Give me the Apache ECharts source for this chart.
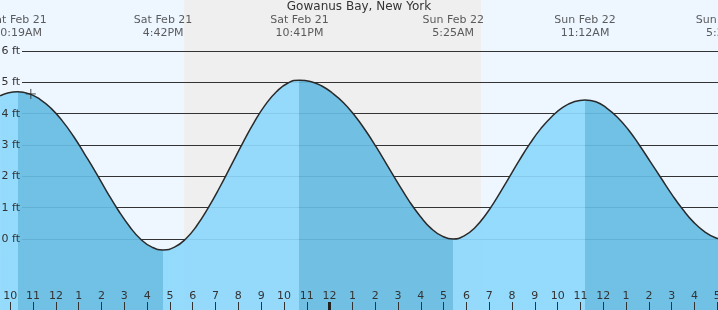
<!DOCTYPE html>
<html>
<head>
<meta charset="utf-8">
<script src="https://cdn.jsdelivr.net/npm/echarts@6/dist/echarts.min.js"></script>
<style>html,body{margin:0;padding:0;background:#eef7ff;}#c{width:718px;height:310px;}</style>
</head>
<body>
<div id="c"></div>
<script>
// ---- data (hours since Sat Feb 21 00:00) ----
const tideTimes = [
  9.55, 9.93, 10.32, 10.81, 11.30, 11.79, 12.28, 12.77, 13.26, 13.76, 14.25, 14.74, 15.23, 15.72, 16.21, 16.70,
  17.20, 17.70, 18.19, 18.69, 19.19, 19.69, 20.19, 20.69, 21.18, 21.68, 22.18, 22.68,
  23.16, 23.64, 24.12, 24.61, 25.09, 25.57, 26.05, 26.53, 27.01, 27.49, 27.98, 28.46, 28.94, 29.42,
  29.90, 30.38, 30.87, 31.35, 31.83, 32.31, 32.79, 33.27, 33.76, 34.24, 34.72, 35.20,
  35.68, 36.15, 36.63, 37.11, 37.58, 38.06, 38.54, 39.02, 39.49, 39.97, 40.45, 40.92, 41.40
];
const tideHeights = [
  4.57, 4.67, 4.70, 4.64, 4.46, 4.17, 3.77, 3.28, 2.71, 2.11, 1.49, 0.91, 0.40, -0.01, -0.26, -0.35,
  -0.26, 0.01, 0.44, 1.01, 1.66, 2.36, 3.06, 3.72, 4.28, 4.71, 4.98, 5.07,
  5.03, 4.89, 4.66, 4.35, 3.95, 3.47, 2.93, 2.35, 1.77, 1.21, 0.72, 0.33, 0.09, 0.00,
  0.10, 0.37, 0.80, 1.33, 1.91, 2.50, 3.05, 3.53, 3.92, 4.21, 4.38, 4.44,
  4.38, 4.18, 3.88, 3.48, 3.00, 2.47, 1.94, 1.41, 0.94, 0.53, 0.23, 0.04, -0.03
];
const eventTimes  = [10.32, 16.7, 22.68, 29.42, 35.2, 41.4];
const eventTypes  = ['high', 'low', 'high', 'low', 'high', 'low'];
const eventLabels = ['Sat Feb 21\n10:19AM', 'Sat Feb 21\n4:42PM', 'Sat Feb 21\n10:41PM', 'Sun Feb 22\n5:25AM', 'Sun Feb 22\n11:12AM', 'Sun Feb 22\n5:25PM'];
const sunset = 17.62, sunrise = 30.64;
const hourTicks = [10,11,12,13,14,15,16,17,18,19,20,21,22,23,24,25,26,27,28,29,30,31,32,33,34,35,36,37,38,39,40,41];
const midnightTicks = [24];
const nowPoint = [10.9, 4.63];
const title = 'Gowanus Bay, New York';

// ---- styling / layout ----
const X_MIN = 9.5484, X_MAX = 41.031;
const Y_MIN = -2.266, Y_MAX = 7.628;
const LIGHT = '#8dd8fc', DARK = '#66bce3';
const FONT = 'DejaVu Sans';
const FS = 11;

const pieces = [];
let prev = -Infinity;
eventTimes.forEach((t, i) => {
  pieces.push({ gte: prev, lt: t, color: eventTypes[i] === 'high' ? LIGHT : DARK });
  prev = t;
});
pieces.push({ gte: prev, lt: Infinity, color: eventTypes[eventTypes.length - 1] === 'high' ? DARK : LIGHT });

const chart = echarts.init(document.getElementById('c'), null, { renderer: 'canvas' });
chart.setOption({
  animation: false,
  backgroundColor: '#eef7ff',
  textStyle: { fontFamily: FONT },
  title: {
    text: title, left: 'center', top: 1, padding: 0, z: 10,
    textStyle: { fontSize: 12, fontWeight: 'normal', color: '#333', fontFamily: FONT }
  },
  grid: [
    { left: 0, right: 0, top: 0, bottom: 0, outerBoundsMode: 'none', containLabel: false },
    { left: 22, right: 0, top: 51, bottom: 71, outerBoundsMode: 'none', containLabel: false }
  ],
  xAxis: [
    {
      type: 'value', gridIndex: 0, min: X_MIN, max: X_MAX, position: 'bottom', z: 10,
      axisLine: { show: false, onZero: false },
      splitLine: { show: false },
      axisTick: { show: true, inside: true, length: 8, customValues: hourTicks, lineStyle: { color: '#333', width: 1 } },
      axisLabel: {
        show: true, inside: true, margin: 8, customValues: hourTicks,
        color: '#333', fontSize: FS, fontFamily: FONT, hideOverlap: false,
        formatter: v => String((Math.round(v) % 12) || 12)
      }
    },
    {
      type: 'value', gridIndex: 0, min: X_MIN, max: X_MAX, position: 'bottom', z: 10,
      axisLine: { show: false, onZero: false }, splitLine: { show: false }, axisLabel: { show: false },
      axisTick: { show: true, inside: true, length: 8, customValues: midnightTicks, lineStyle: { color: '#222', width: 3 } }
    },
    { type: 'value', gridIndex: 1, min: 0, max: 1, show: false, axisLine: { onZero: false } }
  ],
  yAxis: [
    { type: 'value', gridIndex: 0, min: Y_MIN, max: Y_MAX, show: false, position: 'left', axisLine: { onZero: false } },
    {
      type: 'value', gridIndex: 1, min: 0, max: 6, interval: 1, z: 1.5, position: 'left',
      axisLine: { show: false, onZero: false }, axisTick: { show: false }, axisLabel: { show: false },
      splitLine: { show: true, lineStyle: { color: '#333', width: 1 } }
    },
    {
      type: 'value', gridIndex: 1, min: 0, max: 6, interval: 1, z: 10, position: 'left', offset: 0,
      axisLine: { show: false, onZero: false }, axisTick: { show: false }, splitLine: { show: false },
      axisLabel: { show: true, margin: 2, color: '#333', fontSize: FS, fontFamily: FONT, formatter: v => v + ' ft' }
    }
  ],
  visualMap: {
    show: false, type: 'piecewise', seriesIndex: 0, dimension: 0, pieces: pieces
  },
  series: [
    {
      type: 'line', xAxisIndex: 0, yAxisIndex: 0, z: 2,
      data: tideTimes.map((t, i) => [t, tideHeights[i]]),
      smooth: 0.5, showSymbol: false, symbol: 'none',
      lineStyle: { color: '#2a2a2a', width: 1.5 },
      areaStyle: { origin: 'start', opacity: 0.92 },
      markArea: {
        silent: true, z: 1,
        itemStyle: { color: '#efefef', opacity: 1 },
        data: [[{ xAxis: sunset }, { xAxis: sunrise }]]
      }
    },
    {
      type: 'scatter', xAxisIndex: 0, yAxisIndex: 0, z: 4, clip: false,
      symbolSize: 0, silent: true,
      data: eventTimes.map((t, i) => ({ name: eventLabels[i], value: [t, Y_MAX] })),
      label: {
        show: true, position: 'bottom', distance: 14, formatter: '{b}',
        align: 'center', color: '#333', fontSize: FS, lineHeight: 13, fontFamily: FONT
      }
    },
    {
      type: 'scatter', xAxisIndex: 0, yAxisIndex: 0, z: 5,
      data: [nowPoint],
      symbol: 'path://M0,5L10,5M5,0L5,10', symbolSize: 10,
      itemStyle: { color: 'none', borderColor: '#222', borderWidth: 1 }
    }
  ]
});
</script>
</body>
</html>
